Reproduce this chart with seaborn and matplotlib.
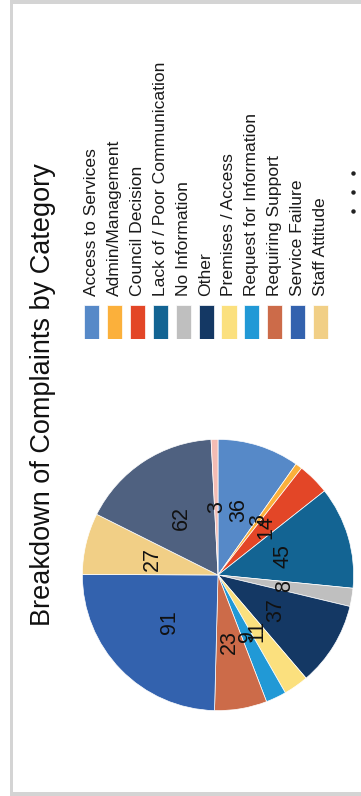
import matplotlib
matplotlib.use("Agg")
import matplotlib.pyplot as plt
from matplotlib.patches import Rectangle
from matplotlib.lines import Line2D
import seaborn as sns

sns.set_theme(style="white")
plt.rcParams["font.family"] = ["Liberation Sans", "DejaVu Sans"]

# Complaint counts per category (the last two slices are not listed in the legend)
categories = [
    "Access to Services", "Admin/Management", "Council Decision",
    "Lack of / Poor Communication", "No Information", "Other",
    "Premises / Access", "Request for Information", "Requiring Support",
    "Service Failure", "Staff Attitude", "Unspecified", "Other (misc)",
]
counts = [36, 3, 14, 45, 8, 37, 11, 9, 23, 91, 27, 62, 3]
colors = [
    "#5689c8", "#fbb03b", "#e34627", "#136493", "#bfbfbf", "#143864",
    "#fbe07e", "#2199d6", "#cc6b49", "#3362ae", "#f1cf86", "#4f6180",
    "#f3bcb4",
]
legend_count = 11
title = "Breakdown of Complaints by Category"

W, H = 361, 796
fig = plt.figure(figsize=(W / 100, H / 100), dpi=100)
fig.patch.set_facecolor("white")

# panel frame (left, top, bottom edges)
frame = "#d4d4d4"
fig.add_artist(Rectangle((10 / W, 0), 3 / W, 1, transform=fig.transFigure, color=frame, lw=0))
fig.add_artist(Rectangle((10 / W, 1 - 3.5 / H), 1, 3.5 / H, transform=fig.transFigure, color=frame, lw=0))
fig.add_artist(Rectangle((10 / W, 0), 1, 4 / H, transform=fig.transFigure, color=frame, lw=0))

# title, rotated
fig.text(43 / W, 1 - 395 / H, title, rotation=90, ha="center", va="center",
         fontsize=19.5, color="#111111")

# pie
cx, cy, r = 218, 575, 137
pax = fig.add_axes([(cx - r) / W, (H - cy - r) / H, 2 * r / W, 2 * r / H])
pax.pie(counts, colors=colors, labels=[str(c) for c in counts],
        labeldistance=0.5, startangle=90, counterclock=False,
        wedgeprops=dict(edgecolor="white", linewidth=0.5),
        textprops=dict(rotation=90, ha="center", va="center",
                       fontsize=15.5, color="#111111"))
pax.set_xlim(-1.01, 1.01)
pax.set_ylim(-1.01, 1.01)
pax.set_aspect("equal")
pax.axis("off")

# legend: swatches drawn as bars, labels rotated above them
x0, step = 84, 22.9
lax = fig.add_axes([(x0 - step * 0.17) / W, (H - 339) / H, step * legend_count / W, 34 / H])
idx = list(range(legend_count))
lax.bar(idx, [1] * legend_count, width=0.66, align="edge",
        color=colors[:legend_count], edgecolor="white", linewidth=0.5)
for i in idx:
    lax.text(i + 0.33, 1 + 9 / 34, categories[i], rotation=90, ha="center",
             va="bottom", fontsize=12.6, color="#1a1a1a")
lax.set_xlim(-0.17, legend_count - 0.17)
lax.set_ylim(0, 1)
lax.axis("off")

# menu dots
fig.add_artist(Line2D([353 / W] * 3, [1 - y / H for y in (173, 192, 211)],
                      transform=fig.transFigure, linestyle="none", marker="o",
                      markersize=3.2, color="#222222", markeredgewidth=0))

fig.savefig("out.png", dpi=100)
